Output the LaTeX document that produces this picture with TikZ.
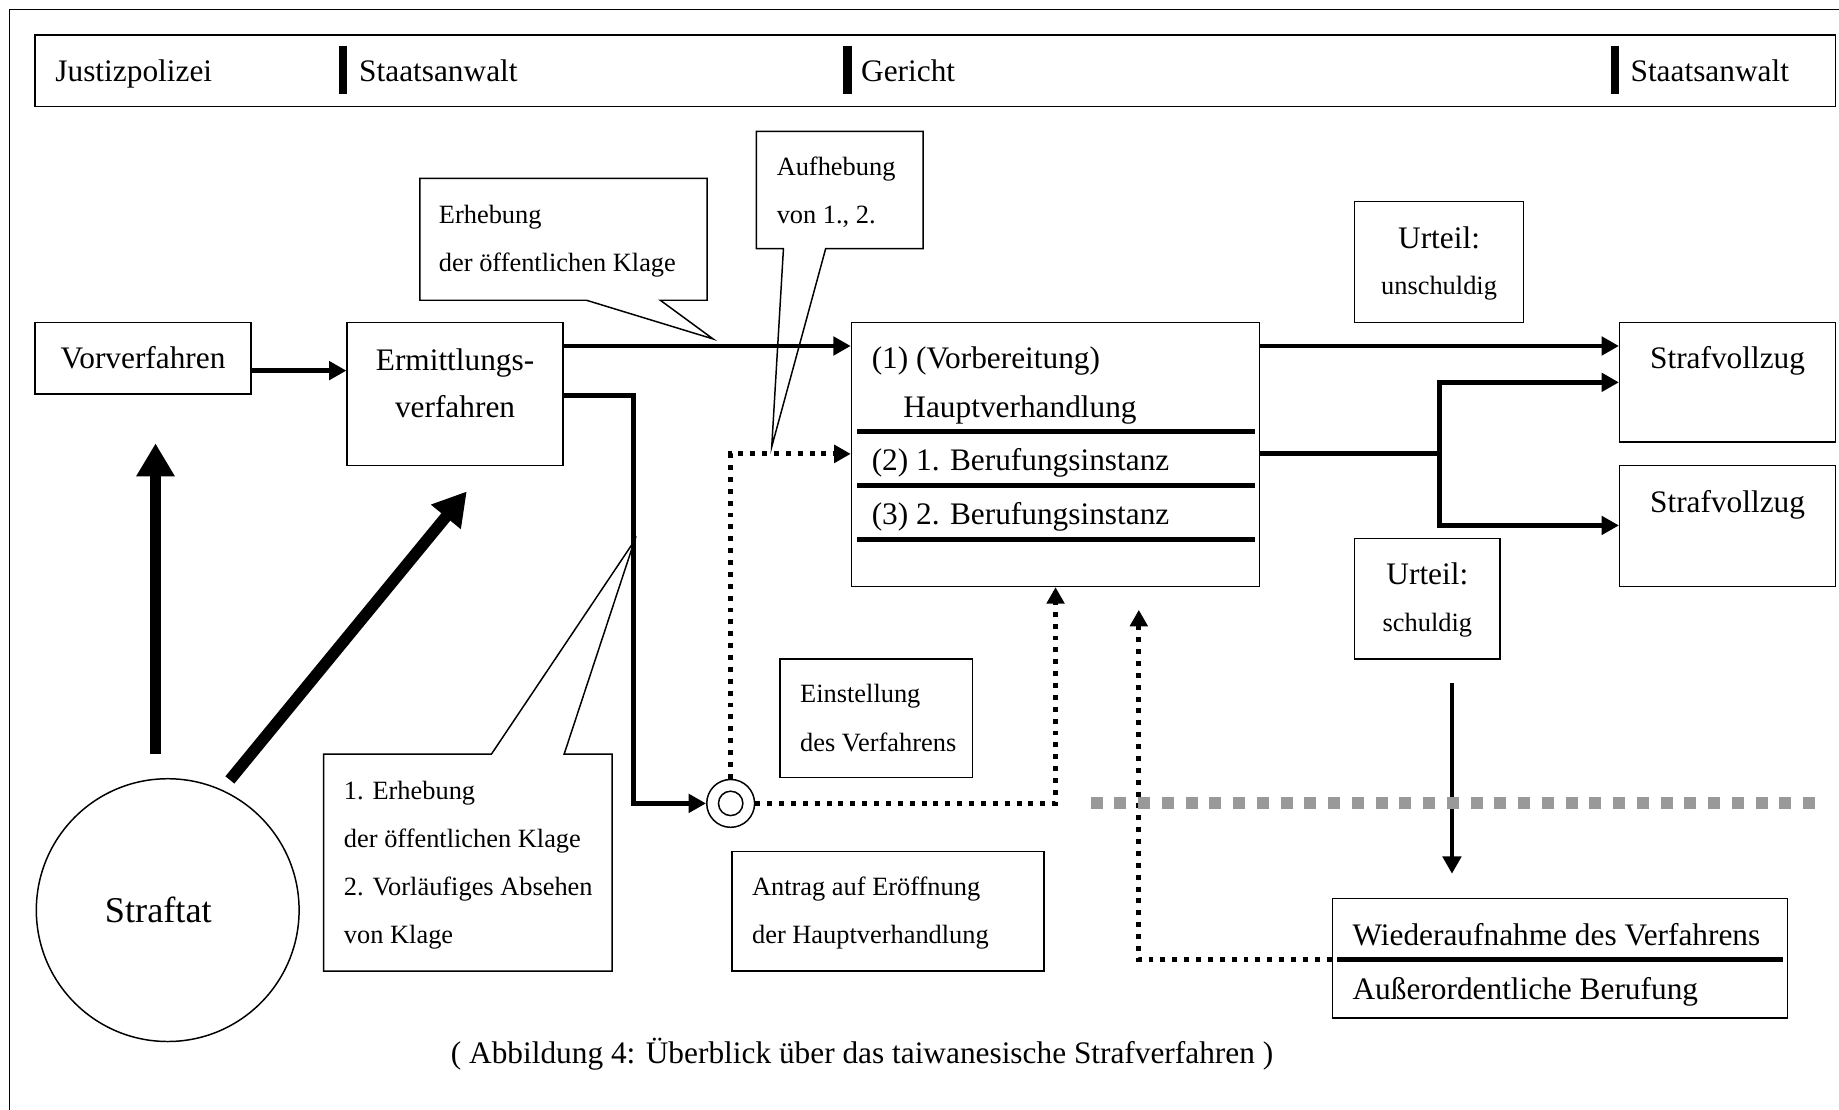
\documentclass[tikz,border=0pt]{standalone}
\usepackage{fontspec}
\setmainfont{Liberation Serif}
\usetikzlibrary{positioning,fit,arrows.meta}

\tikzset{
  box/.style={draw, line width=0.9pt, inner sep=0pt},
  bigtxt/.style={font=\fontsize{19}{23}\selectfont, inner sep=0pt, text height=12.5pt, text depth=0pt},
  smalltxt/.style={font=\fontsize{16}{19}\selectfont, inner sep=0pt, text height=10.5pt, text depth=0pt},
  flow/.style={line width=3pt, line join=miter, -{Triangle[length=10.5pt,width=11pt]}},
  fat/.style={line width=7pt, -{Triangle[length=20pt,width=22pt]}},
  dotline/.style={line width=3pt, dash pattern=on 3pt off 4.2pt},
  dotflow/.style={dotline, -{Triangle[length=10pt,width=10.5pt]}},
  bar/.style={line width=5pt},
  rule/.style={line width=3pt},
  greydash/.style={line width=7.2pt, draw=black!40, dash pattern=on 7.2pt off 7.2pt},
}

\begin{document}
\begin{tikzpicture}[x=0.025cm, y=-0.025cm]
    \useasboundingbox (0,0) rectangle (1568,946);

    % Frame and header
    \draw[line width=0.8pt] (8,946) -- (8,8) -- (1568,8);
    \node[box, fit={(30,30) (1565,91)}] (head) {};
    \node[bigtxt, anchor=west] (jp) at (47,61) {Justizpolizei};
    \node[bigtxt, anchor=west] (sa1) at (306,61) {Staatsanwalt};
    \node[bigtxt, anchor=west] (ger) at (734,61) {Gericht};
    \node[bigtxt, anchor=west] (sa2) at (1390,61) {Staatsanwalt};
    \draw[bar] (292.5,39) -- (292.5,80);
    \draw[bar] (722.5,39) -- (722.5,80);
    \draw[bar] (1377,39) -- (1377,80);

    % Callouts
    \draw[box, fill=white] (358,152) -- (603,152) -- (603,256) -- (563,256) -- (608,289) -- (500,256) -- (358,256) -- cycle;
    \node[smalltxt, anchor=west] (erh1) at (374,183) {Erhebung};
    \node[smalltxt, anchor=west] (erh2) at (374,224) {der öffentlichen Klage};
    \draw[box, fill=white] (645,112) -- (787,112) -- (787,212) -- (704,212) -- (658,381) -- (668,212) -- (645,212) -- cycle;
    \node[smalltxt, anchor=west] (auf1) at (662,142) {Aufhebung};
    \node[smalltxt, anchor=west] (auf2) at (662,183) {von 1., 2.};
    \draw[box, fill=white] (276,643) -- (419,643) -- (541,461) -- (481,643) -- (522,643) -- (522,828) -- (276,828) -- cycle;
    \node[smalltxt, anchor=west] (opt1) at (293,674) {1. Erhebung};
    \node[smalltxt, anchor=west] (opt2) at (293,715) {der öffentlichen Klage};
    \node[smalltxt, anchor=west] (opt3) at (293,756) {2. Vorläufiges Absehen};
    \node[smalltxt, anchor=west] (opt4) at (293,797) {von Klage};

    % Nodes
    \node[box, fit={(30,275) (214,336)}] (vor) {};
    \node[bigtxt] (vortxt) at (122,305) {Vorverfahren};
    \node[box, fit={(296,275) (480,397)}] (erm) {};
    \node[bigtxt] (erm1) at (388,307) {Ermittlungs-};
    \node[bigtxt] (erm2) at (388,347) {verfahren};
    \node[box, fit={(726,275) (1074,500)}] (hv) {};
    \node[bigtxt, anchor=west] (hv1) at (743,305) {(1) (Vorbereitung)};
    \node[bigtxt, anchor=west] (hv2) at (770,347) {Hauptverhandlung};
    \node[bigtxt, anchor=west] (hv3) at (743,392) {(2) 1. Berufungsinstanz};
    \node[bigtxt, anchor=west] (hv4) at (743,438) {(3) 2. Berufungsinstanz};
    \draw[rule] (731,368) -- (1070,368);
    \draw[rule] (731,414) -- (1070,414);
    \draw[rule] (731,460) -- (1070,460);
    \node[box, fit={(1155,172) (1299,275)}] (frei) {};
    \node[bigtxt] (frei1) at (1227,203) {Urteil:};
    \node[smalltxt] (frei2) at (1227,244) {unschuldig};
    \node[box, fit={(1155,459) (1279,562)}] (schuld) {};
    \node[bigtxt] (schuld1) at (1217,490) {Urteil:};
    \node[smalltxt] (schuld2) at (1217,531) {schuldig};
    \node[box, fit={(1381,275) (1565,377)}] (sv1) {};
    \node[bigtxt] (sv1txt) at (1473,305) {Strafvollzug};
    \node[box, fit={(1381,397) (1565,500)}] (sv2) {};
    \node[bigtxt] (sv2txt) at (1473,428) {Strafvollzug};
    \node[box, fit={(665,562) (829,663)}] (einst) {};
    \node[smalltxt, anchor=west] (einst1) at (682,592) {Einstellung};
    \node[smalltxt, anchor=west] (einst2) at (682,633) {des Verfahrens};
    \node[box, fit={(624,726) (890,828)}] (antrag) {};
    \node[smalltxt, anchor=west] (antrag1) at (641,756) {Antrag auf Eröffnung};
    \node[smalltxt, anchor=west] (antrag2) at (641,797) {der Hauptverhandlung};
    \node[box, fit={(1136,766) (1524,868)}] (wa) {};
    \node[bigtxt, anchor=west] (wa1) at (1153,797) {Wiederaufnahme des Verfahrens};
    \node[bigtxt, anchor=west] (wa2) at (1153,843) {Außerordentliche Berufung};
    \draw[rule] (1140,818.5) -- (1520,818.5);
    \node[circle, draw, line width=0.9pt, minimum size=1.02cm, inner sep=0pt] (ring) at (623,685) {};
    \node[circle, draw, line width=0.9pt, minimum size=0.52cm, inner sep=0pt] (ringin) at (ring) {};
    \node[circle, draw, line width=0.9pt, minimum size=5.6cm, inner sep=0pt] (tat) at (143,776) {};
    \node[font=\fontsize{22}{26}\selectfont, inner sep=0pt] (tattxt) at (135,776) {Straftat};
    \node[bigtxt] (caption) at (735,898) {( Abbildung 4: Überblick über das taiwanesische Strafverfahren )};
    \coordinate (up1) at (132.6,643);
    \coordinate (up2) at (132.6,378);
    \coordinate (diag1) at (196,665);
    \coordinate (diag2) at (398,419);
    \coordinate (split) at (1227,387);
    \coordinate (dn1) at (1238,582);
    \coordinate (dn2) at (1238,745);
    \coordinate (back) at (971,520);

    % Edges
    \draw[fat] (up1) -- (up2);
    \draw[fat] (diag1) -- (diag2);
    \draw[flow] (vor.east |- 0,316) -- (erm.west |- 0,316);
    \draw[flow] (erm.east |- 0,295) -- (hv.west |- 0,295);
    \draw[flow] (erm.east |- 0,337) -- (540.5,337) -- (540.5,685) -- (ring.west);
    \draw[dotflow] (ring.north) -- (ring.north |- 0,387) -- (hv.west |- 0,387);
    \draw[dotflow] (ring.east) -- (hv.south |- ring.east) -- (hv.south);
    \draw[flow] (hv.east |- 0,295) -- (sv1.west |- 0,295);
    \draw[line width=3pt] (hv.east |- 0,387) -- (split);
    \draw[flow] (split) |- (sv1.west |- 0,326);
    \draw[flow] (split) |- (sv2.west |- 0,448);
    \draw[flow] (dn1) -- (dn2);
    \draw[dotflow] (wa.west |- 0,818.5) -- (back |- 0,818.5) -- (back);
    \draw[greydash] (930,685) -- (1548,685);
\end{tikzpicture}
\end{document}
